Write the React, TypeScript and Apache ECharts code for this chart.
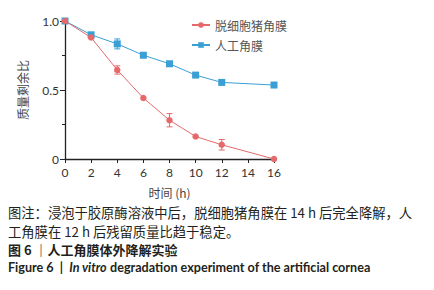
import React, { useEffect, useRef } from "react";
import * as echarts from "echarts";

const hours = [0, 2, 4, 6, 8, 10, 12, 16];
const porcine = [1.0, 0.88, 0.645, 0.442, 0.281, 0.163, 0.103, 0.0];
const porcineErr = [0, 0, 0.03, 0, 0.048, 0, 0.038, 0];
const artificial = [1.0, 0.9, 0.834, 0.752, 0.69, 0.608, 0.555, 0.536];
const artificialErr = [0, 0, 0.036, 0, 0.017, 0, 0, 0];
const seriesNames = ["脱细胞猪角膜", "人工角膜"];
const seriesColors = ["#e5696b", "#3a9fd5"];
const yTickLabels: Record<string, string> = { "0": "0", "0.5": "0.5", "1": "1.0" };
const xName = "时间 (h)";
const yName = "质量剩余比";
const captionLine1 = "图注：浸泡于胶原酶溶液中后，脱细胞猪角膜在 14 h 后完全降解，人";
const captionLine2 = "工角膜在 12 h 后残留质量比趋于稳定。";
const captionLine3 = "图 6 ｜人工角膜体外降解实验";
const captionLine4a = "Figure 6  |  ";
const captionLine4b = "In vitro";
const captionLine4c = " degradation experiment of the artificial cornea";

const CJK = '"Noto Sans CJK SC", "Noto Sans", sans-serif';
const LATIN = 'Lato, "Noto Sans CJK SC", sans-serif';

function errorSeries(name: string, values: number[], errs: number[], color: string) {
  const data = hours
    .map((h, i) => [h, values[i] - errs[i], values[i] + errs[i]])
    .filter((_, i) => errs[i] > 0);
  return {
    type: "custom",
    name: name + "-err",
    z: 1,
    silent: true,
    data,
    renderItem: (params: any, api: any) => {
      const x = api.value(0);
      const lo = api.coord([x, api.value(1)]);
      const hi = api.coord([x, api.value(2)]);
      const w = 3;
      const style = { stroke: color, lineWidth: 1 };
      return {
        type: "group",
        children: [
          { type: "line", shape: { x1: lo[0], y1: lo[1], x2: hi[0], y2: hi[1] }, style },
          { type: "line", shape: { x1: lo[0] - w, y1: lo[1], x2: lo[0] + w, y2: lo[1] }, style },
          { type: "line", shape: { x1: hi[0] - w, y1: hi[1], x2: hi[0] + w, y2: hi[1] }, style },
        ],
      };
    },
  };
}

export default function App() {
  const ref = useRef<HTMLDivElement>(null);
  useEffect(() => {
    if (!ref.current) return;
    const chart = echarts.init(ref.current, undefined, { renderer: "svg" });
    const axisColor = "#222";
    chart.setOption({
      animation: false,
      backgroundColor: "#fff",
      grid: { left: 65, right: 160, top: 21, bottom: 131 },
      legend: {
        data: seriesNames,
        orient: "vertical",
        left: 186,
        top: 14,
        itemWidth: 18,
        itemHeight: 7,
        itemGap: 8,
        textStyle: { fontFamily: CJK, fontSize: 12, color: "#555" },
      },
      xAxis: {
        type: "value",
        min: 0,
        max: 16,
        interval: 2,
        name: xName,
        nameLocation: "middle",
        nameGap: 27,
        nameTextStyle: { fontFamily: CJK, fontSize: 12, color: "#444" },
        axisLine: { show: true, onZero: false, lineStyle: { color: axisColor, width: 1.3 } },
        axisTick: { show: true, length: 4, lineStyle: { color: axisColor } },
        axisLabel: { margin: 7, fontFamily: LATIN, fontSize: 12, color: "#333" },
        splitLine: { show: false },
      },
      yAxis: {
        type: "value",
        min: 0,
        max: 1,
        interval: 0.5,
        name: yName,
        nameLocation: "middle",
        nameGap: 37,
        nameTextStyle: { fontFamily: CJK, fontSize: 12, color: "#444" },
        axisLine: { show: true, lineStyle: { color: axisColor, width: 1.3 } },
        axisTick: { show: true, length: 5, lineStyle: { color: axisColor } },
        minorTick: { show: true, splitNumber: 2, length: 3, lineStyle: { color: axisColor } },
        axisLabel: {
          margin: 6,
          fontFamily: LATIN,
          fontSize: 12,
          color: "#333",
          formatter: (v: number) => yTickLabels[String(v)] ?? String(v),
        },
        splitLine: { show: false },
      },
      series: [
        errorSeries(seriesNames[1], artificial, artificialErr, seriesColors[1]),
        errorSeries(seriesNames[0], porcine, porcineErr, seriesColors[0]),
        {
          type: "line",
          name: seriesNames[1],
          data: hours.map((h, i) => [h, artificial[i]]),
          symbol: "rect",
          symbolSize: 7,
          itemStyle: { color: seriesColors[1] },
          lineStyle: { color: seriesColors[1], width: 1 },
          z: 2,
        },
        {
          type: "line",
          name: seriesNames[0],
          data: hours.map((h, i) => [h, porcine[i]]),
          symbol: "circle",
          symbolSize: 6.5,
          itemStyle: { color: seriesColors[0] },
          lineStyle: { color: seriesColors[0], width: 1 },
          z: 3,
        },
      ],
      graphic: [
        {
          type: "text",
          left: 8,
          top: 206,
          style: { text: captionLine1, fontFamily: CJK, fontSize: 13.3, fill: "#231f20" },
        },
        {
          type: "text",
          left: 8,
          top: 225,
          style: { text: captionLine2, fontFamily: CJK, fontSize: 13.3, fill: "#231f20" },
        },
        {
          type: "text",
          left: 8,
          top: 243,
          style: { text: captionLine3, fontFamily: CJK, fontSize: 13, fontWeight: "bold", fill: "#231f20" },
        },
        {
          type: "text",
          left: 8,
          top: 261,
          style: {
            text: "{a|" + captionLine4a + "}{b|" + captionLine4b + "}{a|" + captionLine4c + "}",
            rich: {
              a: { fontFamily: LATIN, fontSize: 12.6, fontWeight: "bold", fill: "#231f20", color: "#231f20" },
              b: { fontFamily: LATIN, fontSize: 12.6, fontWeight: "bold", fontStyle: "italic", fill: "#231f20", color: "#231f20" },
            },
          },
        },
      ],
    });
    return () => chart.dispose();
  }, []);
  return (
    <div
      ref={ref}
      style={{ position: "fixed", left: 0, top: 0, width: 434, height: 290, background: "#fff" }}
    />
  );
}
